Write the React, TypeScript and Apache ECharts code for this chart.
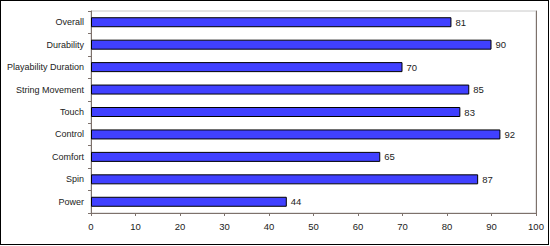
import React, { useEffect, useRef } from "react";
import * as echarts from "echarts";

const categories = [
  "Power",
  "Spin",
  "Comfort",
  "Control",
  "Touch",
  "String Movement",
  "Playability Duration",
  "Durability",
  "Overall",
];
const values = [44, 87, 65, 92, 83, 85, 70, 90, 81];
const xTicks = [0, 10, 20, 30, 40, 50, 60, 70, 80, 90, 100];

export default function App() {
  const ref = useRef<HTMLDivElement>(null);
  useEffect(() => {
    document.body.style.margin = "0";
    const chart = echarts.init(ref.current!, null, { renderer: "svg" });
    const font = "Liberation Sans";
    chart.setOption({
      animation: false,
      backgroundColor: "#ffffff",
      grid: {
        left: 91,
        right: 14,
        top: 11,
        bottom: 33,
        show: true,
        borderColor: "#c8c8c8",
        borderWidth: 1,
      },
      xAxis: {
        type: "value",
        min: xTicks[0],
        max: xTicks[xTicks.length - 1],
        interval: 10,
        splitLine: { show: false },
        axisLine: { show: true, lineStyle: { color: "#7d716b", width: 1 } },
        axisTick: { show: true, length: 3, lineStyle: { color: "#7d716b" } },
        axisLabel: { color: "#222", fontSize: 9.5, fontFamily: font, margin: 8 },
      },
      yAxis: [
        {
          type: "category",
          data: categories,
          axisLine: { show: true, lineStyle: { color: "#7d716b", width: 1 } },
          axisTick: { show: true, length: 3, lineStyle: { color: "#7d716b" } },
          axisLabel: { color: "#222", fontSize: 9, fontFamily: font, margin: 7 },
        },
        {
          type: "category",
          data: categories,
          position: "right",
          axisLine: { show: true, lineStyle: { color: "#7d716b", width: 1 } },
          axisTick: { show: false },
          axisLabel: { show: false },
        },
      ],
      series: [
        {
          type: "bar",
          data: values,
          barWidth: 10,
          itemStyle: { color: "#4040ff", borderColor: "#000", borderWidth: 1 },
          label: {
            show: true,
            position: "right",
            distance: 4,
            color: "#222",
            fontSize: 9.5,
            fontFamily: font,
          },
        },
      ],
    });
    return () => chart.dispose();
  }, []);
  return (
    <div style={{ position: "absolute", left: 0, top: 0, width: 550, height: 246 }}>
      <div ref={ref} style={{ width: 550, height: 246 }} />
      <div
        style={{
          position: "absolute",
          left: 0,
          top: 0,
          width: 549,
          height: 245,
          boxSizing: "border-box",
          border: "1px solid #000",
          pointerEvents: "none",
        }}
      />
    </div>
  );
}
